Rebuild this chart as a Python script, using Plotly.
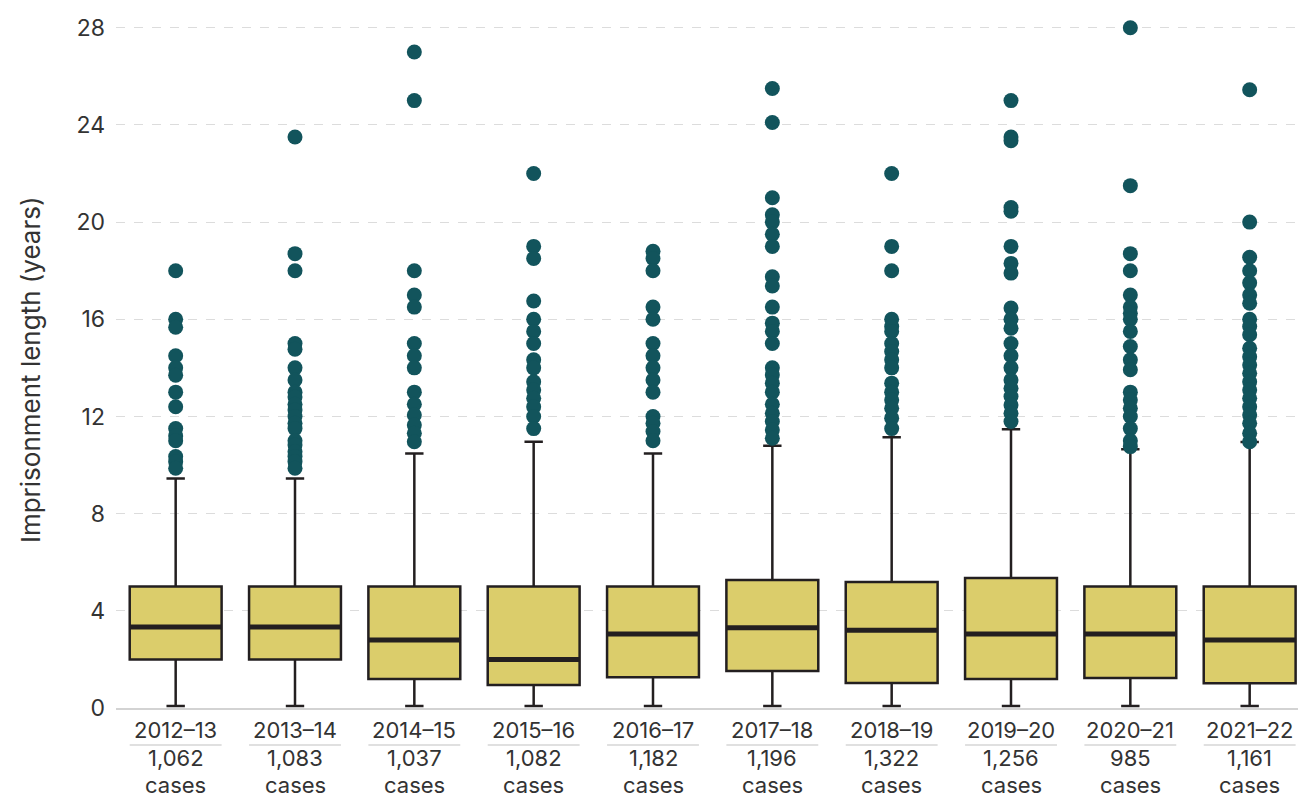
import plotly.graph_objects as go

years = ["2012–13", "2013–14", "2014–15", "2015–16", "2016–17",
         "2017–18", "2018–19", "2019–20", "2020–21", "2021–22"]
cases = ["1,062", "1,083", "1,037", "1,082", "1,182",
         "1,196", "1,322", "1,256", "985", "1,161"]

q1 = [2.0, 2.0, 1.19, 0.95, 1.27, 1.52, 1.03, 1.19, 1.23, 1.02]
median = [3.33, 3.33, 2.8, 2.0, 3.05, 3.3, 3.2, 3.05, 3.05, 2.8]
q3 = [5.0, 5.0, 5.0, 5.0, 5.0, 5.27, 5.19, 5.35, 5.0, 5.0]
lower = [0.08, 0.08, 0.08, 0.08, 0.08, 0.08, 0.08, 0.08, 0.08, 0.08]
upper = [9.45, 9.45, 10.48, 10.96, 10.48, 10.79, 11.14, 11.47, 10.65, 10.95]

outliers = [
    [18.0, 16.0, 15.67, 14.5, 14.0, 13.7, 13.0, 12.4, 11.5, 11.2, 11.0, 10.35, 10.14, 9.87],
    [23.5, 18.7, 18.0, 15.0, 14.77, 14.0, 13.5, 13.0, 12.8, 12.5, 12.27, 12.0, 11.72, 11.5,
     11.0, 10.83, 10.55, 10.35, 10.14, 9.87],
    [27.0, 25.0, 18.0, 17.0, 16.5, 15.0, 14.5, 14.0, 13.0, 12.5, 12.06, 11.65, 11.31, 10.96],
    [22.0, 19.0, 18.5, 16.75, 16.0, 15.5, 15.0, 14.33, 14.0, 13.43, 13.09, 12.75, 12.4, 12.0, 11.5],
    [18.8, 18.5, 18.0, 16.5, 16.0, 15.0, 14.5, 14.0, 13.5, 13.0, 12.0, 11.72, 11.38, 11.0],
    [25.5, 24.1, 21.0, 20.3, 20.0, 19.5, 19.0, 17.75, 17.37, 16.5, 15.84, 15.5, 15.0, 14.0,
     13.71, 13.37, 13.0, 12.5, 12.13, 11.79, 11.44, 11.1],
    [22.0, 19.0, 18.0, 16.0, 15.7, 15.5, 15.0, 14.67, 14.33, 14.0, 13.37, 13.0, 12.68, 12.34,
     11.93, 11.5],
    [25.0, 23.5, 23.35, 20.6, 20.45, 19.0, 18.3, 17.9, 16.46, 16.0, 15.63, 15.0, 14.5, 14.0,
     13.5, 13.16, 12.82, 12.47, 12.13, 11.79],
    [28.0, 21.5, 18.7, 18.0, 17.0, 16.5, 16.25, 16.0, 15.5, 14.88, 14.33, 13.92, 13.0, 12.68,
     12.34, 12.0, 11.5, 11.0, 10.76],
    [25.45, 20.0, 18.55, 18.0, 17.5, 17.0, 16.66, 16.0, 15.7, 15.36, 14.81, 14.46, 14.12, 13.78,
     13.43, 13.09, 12.75, 12.4, 12.06, 11.72, 11.31, 10.96],
]

y_ticks = [0, 4, 8, 12, 16, 20, 24, 28]
y_title = "Imprisonment length (years)"

FONT = "Inter"
TEXT = "#333333"
BOX_FILL = "#dbcd6b"
EDGE = "#231f20"
DOT = "#12545c"
BOX_W = 0.77
X_MIN, X_MAX = -0.5, 9.405

fig = go.Figure()

ox, oy = [], []
for i, vals in enumerate(outliers):
    ox += [i] * len(vals)
    oy += vals
fig.add_trace(go.Scatter(x=ox, y=oy, mode="markers",
                         marker=dict(size=15, color=DOT, line=dict(width=0)),
                         showlegend=False, hoverinfo="y"))

fig.add_trace(go.Box(x=list(range(len(years))), q1=q1, median=median, q3=q3,
                     lowerfence=lower, upperfence=upper,
                     fillcolor=BOX_FILL, line=dict(color=EDGE, width=2.5),
                     whiskerwidth=0.2, width=BOX_W, boxpoints=False,
                     showlegend=False))

mx, my = [], []
for i, m in enumerate(median):
    mx += [i - BOX_W / 2, i + BOX_W / 2, None]
    my += [m, m, None]
fig.add_trace(go.Scatter(x=mx, y=my, mode="lines",
                         line=dict(color=EDGE, width=5),
                         showlegend=False, hoverinfo="skip"))

# category labels (three rows) and separator lines
rows = [(years, -0.0311), (cases, -0.0707), (["cases"] * len(years), -0.1096)]
for labels, ypos in rows:
    for i, t in enumerate(labels):
        fig.add_annotation(x=i, y=ypos, xref="x", yref="paper", text=t,
                           showarrow=False, xanchor="center", yanchor="middle",
                           font=dict(family=FONT, size=22, color=TEXT))
for i in range(len(years)):
    fig.add_shape(type="line", xref="x", yref="paper",
                  x0=i - BOX_W / 2, x1=i + BOX_W / 2, y0=-0.0525, y1=-0.0525,
                  line=dict(color="#d6d6d6", width=1.5))

# y-axis title
fig.add_annotation(x=0, y=0.478, xref="paper", yref="paper", text=y_title,
                   textangle=-90, showarrow=False, xanchor="center", yanchor="middle",
                   xshift=-86, font=dict(family=FONT, size=26, color=TEXT))

fig.update_layout(
    width=1298, height=799,
    margin=dict(l=116, r=0, t=1, b=91),
    plot_bgcolor="white", paper_bgcolor="white",
    font=dict(family=FONT, color=TEXT, size=23),
    xaxis=dict(range=[X_MIN, X_MAX], showticklabels=False, showgrid=False,
               zeroline=False, showline=True, linecolor="#d3d3d3", linewidth=2,
               ticks=""),
    yaxis=dict(range=[0, 29.1], tickvals=y_ticks, showgrid=True,
               gridcolor="#dcdcdc", griddash="dash", gridwidth=1,
               zeroline=False, ticks="", ticklabelstandoff=10,
               tickfont=dict(family=FONT, size=23, color=TEXT)),
)

fig.write_html("out.html", config={"displayModeBar": False},
               post_script="document.body.style.margin='0';document.body.style.overflow='hidden';")
